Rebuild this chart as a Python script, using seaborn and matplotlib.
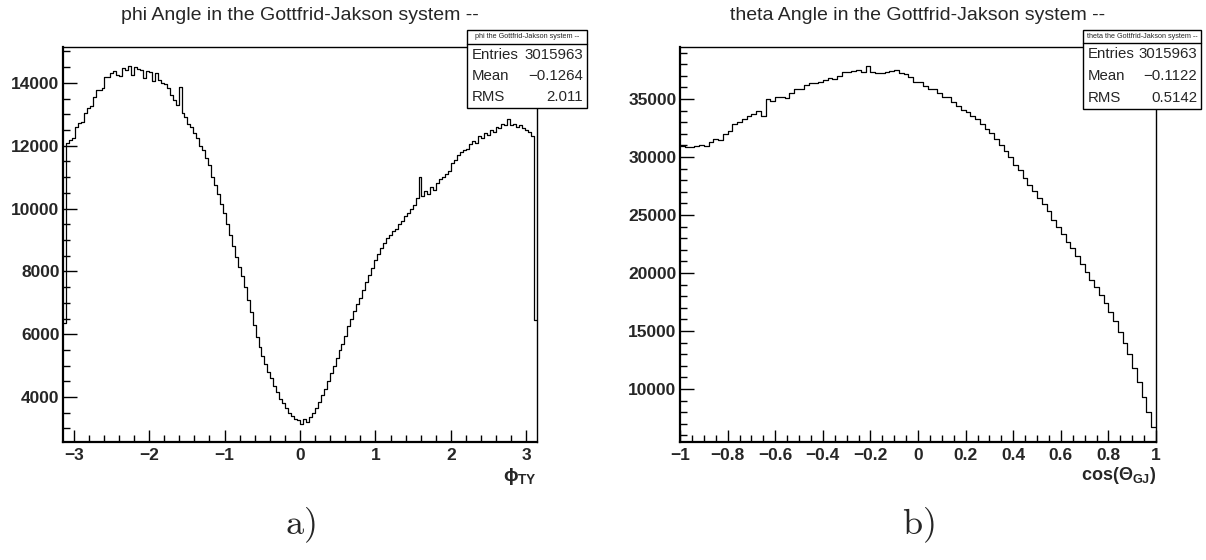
import numpy as np
import pandas as pd
import matplotlib
matplotlib.use("Agg")
import matplotlib.pyplot as plt
import seaborn as sns
from matplotlib.patches import Rectangle
from matplotlib.lines import Line2D
from matplotlib.ticker import MultipleLocator

# ---------------- data ----------------
phi_counts = [
    6350, 12100, 12180, 12250, 12600, 12720, 12760, 13050, 13200, 13250,
    13550, 13780, 13760, 13850, 14180, 14200, 14300, 14380, 14250, 14230,
    14480, 14420, 14530, 14250, 14500, 14450, 14400, 14150, 14380, 14350,
    14060, 14300, 14100, 14000, 13950, 13850, 13600, 13450, 13300, 13880,
    13050, 12900, 12700, 12600, 12400, 12250, 12000, 11850, 11600, 11400,
    11000, 10750, 10450, 10150, 9850, 9500, 9150, 8800, 8450, 8150,
    7850, 7500, 7100, 6700, 6300, 5900, 5600, 5300, 5050, 4800,
    4600, 4350, 4150, 3950, 3800, 3650, 3500, 3400, 3300, 3280,
    3150, 3300, 3200, 3350, 3480, 3650, 3850, 4050, 4250, 4500,
    4750, 5000, 5250, 5500, 5700, 5950, 6250, 6500, 6750, 6950,
    7150, 7400, 7650, 7900, 8100, 8350, 8550, 8750, 8900, 9050,
    9150, 9300, 9350, 9500, 9600, 9750, 9850, 10000, 10100, 10350,
    11000, 10400, 10550, 10450, 10700, 10600, 10800, 10950, 11000, 11100,
    11200, 11450, 11550, 11700, 11800, 11850, 11900, 12050, 12150, 12100,
    12300, 12250, 12400, 12350, 12500, 12450, 12600, 12550, 12700, 12650,
    12850, 12650, 12700, 12600, 12650, 12550, 12500, 12450, 12300, 6450,
]
cos_counts = [
    30950, 30830, 30900, 30950, 31050, 30950, 31250, 31550, 31500, 32000,
    32250, 32800, 33000, 33300, 33550, 33700, 34000, 33550, 35000, 34850,
    35150, 35200, 35050, 35500, 35850, 35900, 36200, 36400, 36350, 36500,
    36600, 36800, 36750, 37000, 37350, 37300, 37400, 37500, 37350, 37800,
    37300, 37250, 37200, 37350, 37450, 37500, 37200, 37150, 36900, 36500,
    36450, 36100, 35900, 35850, 35500, 35200, 35150, 34700, 34400, 34050,
    33850, 33500, 33300, 32850, 32400, 32050, 31550, 31000, 30550, 30000,
    29300, 28850, 28200, 27550, 27100, 26500, 25950, 25350, 24600, 24000,
    23400, 22700, 22150, 21450, 20800, 20100, 19400, 18750, 18100, 17450,
    16650, 15850, 14900, 14000, 13000, 11800, 10600, 9300, 8000, 6700,
]
phi_xticks = [-3, -2, -1, 0, 1, 2, 3]
phi_yticks = [4000, 6000, 8000, 10000, 12000, 14000]
cos_xticks = [-1, -0.8, -0.6, -0.4, -0.2, 0, 0.2, 0.4, 0.6, 0.8, 1]
cos_yticks = [10000, 15000, 20000, 25000, 30000, 35000]

titles = ["phi Angle in the Gottfrid-Jakson system --",
          "theta Angle in the Gottfrid-Jakson system --"]
stat_headers = ["phi the Gottfrid-Jakson system --",
                "theta the Gottfrid-Jakson system --"]
stat_entries = ["3015963", "3015963"]
stat_means = ["\u22120.1264", "\u22120.1122"]
stat_rms = ["2.011", "0.5142"]
panel_tags = ["a)", "b)"]

# ---------------- style ----------------
sns.set_theme(style="white")
plt.rcParams["font.family"] = ["Liberation Sans", "DejaVu Sans"]
plt.rcParams["mathtext.fontset"] = "custom"
plt.rcParams["mathtext.rm"] = "Liberation Sans:bold"
plt.rcParams["mathtext.it"] = "Liberation Sans:bold"
plt.rcParams["mathtext.bf"] = "Liberation Sans:bold"

W, H = 1206, 560
fig = plt.figure(figsize=(W / 100, H / 100), dpi=100)
fig.patch.set_facecolor("white")


def px_axes(x0, y0, x1, y1):
    return fig.add_axes([x0 / W, 1 - y1 / H, (x1 - x0) / W, (y1 - y0) / H])


ax1 = px_axes(63, 47, 537, 442)
ax2 = px_axes(680, 47, 1156, 442)

n_phi = len(phi_counts)
n_cos = len(cos_counts)
phi_width = 2 * np.pi / n_phi
cos_width = 2.0 / n_cos
phi_centers = -np.pi + phi_width * (np.arange(n_phi) + 0.5)
cos_centers = -1.0 + cos_width * (np.arange(n_cos) + 0.5)

df1 = pd.DataFrame({"x": phi_centers, "w": np.asarray(phi_counts, float)})
df2 = pd.DataFrame({"x": cos_centers, "w": np.asarray(cos_counts, float)})

sns.histplot(data=df1, x="x", weights="w", bins=n_phi,
             binrange=(-np.pi, np.pi), element="step",
             fill=False, color="black", linewidth=0.9, ax=ax1)
sns.histplot(data=df2, x="x", weights="w", bins=n_cos,
             binrange=(-1.0, 1.0), element="step",
             fill=False, color="black", linewidth=0.9, ax=ax2)

ax1.set_xlim(-np.pi, np.pi)
ax1.set_ylim(2570, 15140)
ax2.set_xlim(-1, 1)
ax2.set_ylim(5430, 39480)


def fmt(v):
    s = f"{v:g}"
    return s.replace("-", "\u2212")


for ax, xt, yt, xminor, yminor in [
    (ax1, phi_xticks, phi_yticks, 0.2, 500),
    (ax2, cos_xticks, cos_yticks, 0.05, 1000),
]:
    ax.set_xlabel("")
    ax.set_ylabel("")
    ax.set_xticks(xt, [fmt(v) for v in xt], fontweight="bold", fontsize=12.5)
    ax.set_yticks(yt, [str(v) for v in yt], fontweight="bold", fontsize=12.5)
    ax.xaxis.set_minor_locator(MultipleLocator(xminor))
    ax.yaxis.set_minor_locator(MultipleLocator(yminor))
    ax.tick_params(which="both", direction="in", top=False, right=False,
                   bottom=True, left=True, color="black", width=1.0)
    ax.tick_params(axis="x", which="major", length=8.5, pad=4)
    ax.tick_params(axis="y", which="major", length=10, pad=2.5)
    ax.tick_params(which="minor", length=5)
    for name, sp in ax.spines.items():
        sp.set_color("black")
        sp.set_linewidth(1.6 if name in ("left", "bottom") else 1.0)
    ax.grid(False)

# axis labels
ax1.text(1.0, -0.06, r"$\phi_{TY}$", transform=ax1.transAxes,
         ha="right", va="top", fontsize=14)
ax2.text(1.0, -0.058, r"cos($\Theta_{GJ}$)", transform=ax2.transAxes,
         ha="right", va="top", fontsize=13, fontweight="bold")

# titles
fig.text(300 / W, 1 - 16 / H, titles[0], ha="center", va="center", fontsize=14)
fig.text(918 / W, 1 - 16 / H, titles[1], ha="center", va="center", fontsize=14)


def stats_box(x0, x1, y0, yh, y1, header, entries, mean, rms):
    rect = Rectangle((x0 / W, 1 - y1 / H), (x1 - x0) / W, (y1 - y0) / H,
                     transform=fig.transFigure, facecolor="white",
                     edgecolor="black", linewidth=1.0, zorder=10)
    fig.add_artist(rect)
    fig.add_artist(Line2D([x0 / W, x1 / W], [1 - yh / H, 1 - yh / H],
                          transform=fig.transFigure, color="black",
                          linewidth=1.0, zorder=11))
    fig.text((x0 + x1) / 2 / W, 1 - (y0 + yh) / 2 / H, header, ha="center",
             va="center", fontsize=5.2, zorder=12)
    rows = [("Entries", entries), ("Mean", mean), ("RMS", rms)]
    step = (y1 - yh) / 3
    for k, (lab, val) in enumerate(rows):
        yc = yh + step * (k + 0.5)
        fig.text((x0 + 5) / W, 1 - yc / H, lab, ha="left", va="center",
                 fontsize=10.8, zorder=12)
        fig.text((x1 - 4) / W, 1 - yc / H, val, ha="right", va="center",
                 fontsize=10.8, zorder=12)


stats_box(467, 587, 30, 44, 108, stat_headers[0], stat_entries[0],
          stat_means[0], stat_rms[0])
stats_box(1083, 1201, 30, 43, 109, stat_headers[1], stat_entries[1],
          stat_means[1], stat_rms[1])

# panel tags
fig.text(300 / W, 1 - 525 / H, r"$\mathrm{a)}$", ha="center", va="center",
         fontsize=26, math_fontfamily="cm")
fig.text(918 / W, 1 - 525 / H, r"$\mathrm{b)}$", ha="center", va="center",
         fontsize=26, math_fontfamily="cm")

fig.savefig("out.png", dpi=100, facecolor="white")
